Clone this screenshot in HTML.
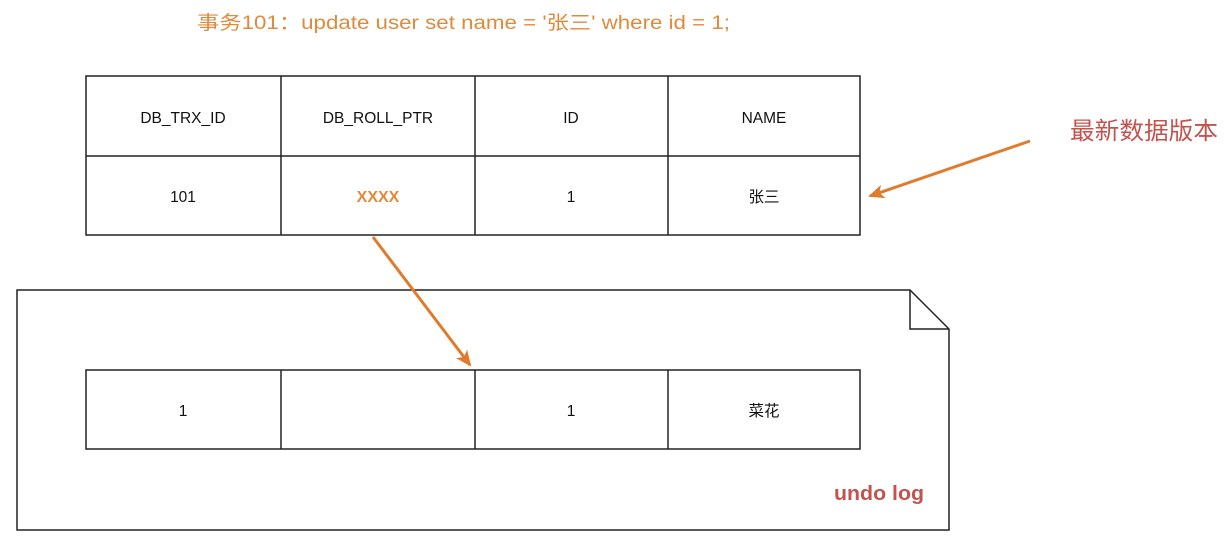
<!DOCTYPE html>
<html><head><meta charset="utf-8"><style>
body{margin:0;width:1226px;height:550px;background:#fff;overflow:hidden}
svg text{font-family:"Liberation Sans","Noto Sans CJK SC",sans-serif}
</style></head><body>
<svg width="1226" height="550" xmlns="http://www.w3.org/2000/svg">
<defs>
<marker id="ah2" markerWidth="18" markerHeight="18" refX="14" refY="9" orient="auto" markerUnits="userSpaceOnUse" viewBox="0 0 18 18"><path d="M0,2 L16,9 L0,16 L4,9 z" fill="#e07b2c"/></marker></defs>
<text x="197" y="29" font-size="19" fill="#e08a3c" textLength="533" lengthAdjust="spacingAndGlyphs">事务101：update user set name = '张三' where id = 1;</text>
<g stroke="#222" stroke-width="1.5" fill="none">
<rect x="86" y="76" width="774" height="159"/>
<line x1="86" y1="156" x2="860" y2="156"/>
<line x1="281" y1="76" x2="281" y2="235"/><line x1="475" y1="76" x2="475" y2="235"/><line x1="668" y1="76" x2="668" y2="235"/>
<path d="M17,290 H910 L949,329 V530 H17 Z"/>
<path d="M910,290 V329 H949"/>
<rect x="86" y="370" width="774" height="79"/>
<line x1="281" y1="370" x2="281" y2="449"/><line x1="475" y1="370" x2="475" y2="449"/><line x1="668" y1="370" x2="668" y2="449"/>
</g>
<g font-size="15.5" fill="#111" text-anchor="middle">
<text x="183" y="123">DB_TRX_ID</text><text x="378" y="123">DB_ROLL_PTR</text><text x="571" y="123">ID</text><text x="764" y="123">NAME</text>
<text x="183" y="202">101</text><text x="571" y="202">1</text><text x="764" y="202">张三</text>
<text x="183" y="416">1</text><text x="571" y="416">1</text><text x="764" y="416">菜花</text>
</g>
<text x="378" y="202" font-size="16" font-weight="bold" fill="#e08a3c" text-anchor="middle">XXXX</text>
<text x="1070" y="139" font-size="24" fill="#c2534e" textLength="148" lengthAdjust="spacingAndGlyphs">最新数据版本</text>
<text x="834" y="500" font-size="20" font-weight="bold" fill="#c2534e" textLength="90" lengthAdjust="spacingAndGlyphs">undo log</text>
<g stroke="#e07b2c" stroke-width="3" fill="none">
<line x1="1030" y1="141" x2="870" y2="196" marker-end="url(#ah2)"/>
<line x1="373" y1="237" x2="470" y2="365" marker-end="url(#ah2)"/>
</g>
</svg>
</body></html>
